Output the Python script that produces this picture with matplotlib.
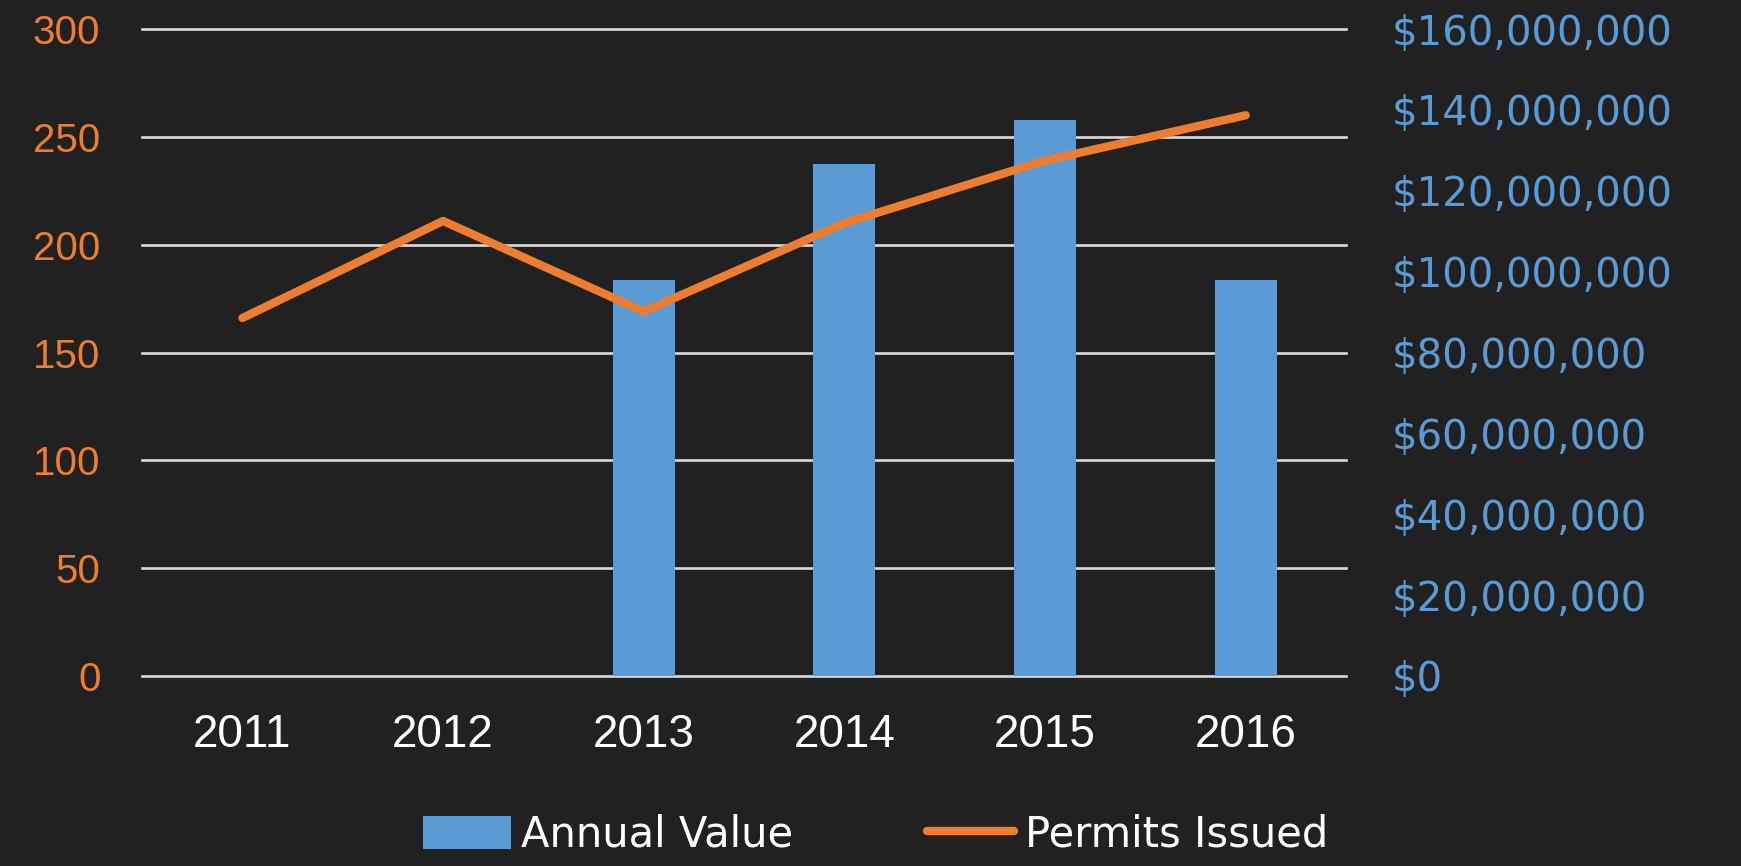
import numpy as np
import matplotlib
matplotlib.use('Agg')
import matplotlib.pyplot as plt
from matplotlib.ticker import FuncFormatter

# dados
anos = ['2011', '2012', '2013', '2014', '2015', '2016']
valor_anual = [0, 0, 98_000_000, 126_500_000, 137_500_000, 98_000_000]
licencas = [166, 211, 169, 210, 239, 260]

laranja = '#ED7D31'
azul = '#5B9BD5'
fundo = '#212121'
fonte_estreita = ['Liberation Sans Narrow', 'Liberation Sans', 'DejaVu Sans']

fig = plt.figure(figsize=(17.41, 8.66), dpi=100, facecolor=fundo)
ax = fig.add_axes([0.0816, 0.2194, 0.6915, 0.7471])
ax.set_facecolor('none')
x = np.arange(len(anos))

# eixo de base: grade e rótulos da esquerda (licenças)
ax.set_ylim(0, 300)
ax.set_xlim(-0.5, len(anos) - 0.5)
ax.set_yticks(range(0, 301, 50))
ax.grid(axis='y', color='#d9d9d9', linewidth=1.9)
for g in ax.get_ygridlines():
    g.set_clip_on(False)
ax.set_axisbelow(True)
ax.set_xticks(x)
ax.set_xticklabels(anos, color='white', fontsize=33, family=fonte_estreita)
for t in ax.get_yticklabels():
    t.set_color(laranja)
    t.set_fontsize(29)
    t.set_family(fonte_estreita)
ax.tick_params(length=0, pad=30)
ax.tick_params(axis='x', pad=27)
for s in ax.spines.values():
    s.set_visible(False)

# barras (valor anual) no eixo da direita
ax2 = ax.twinx()
ax2.set_ylim(0, 160_000_000)
ax2.set_yticks(range(0, 160_000_001, 20_000_000))
ax2.yaxis.set_major_formatter(FuncFormatter(lambda v, p: '${:,.0f}'.format(v)))
barras = ax2.bar(x, valor_anual, width=0.31, color=azul, label='Annual Value')
for t in ax2.get_yticklabels():
    t.set_color(azul)
    t.set_fontsize(29)
    t.set_family('DejaVu Sans')
ax2.tick_params(length=0, pad=33)
for s in ax2.spines.values():
    s.set_visible(False)

# linha (licenças emitidas) por cima
ax3 = ax.twinx()
ax3.set_ylim(0, 300)
ax3.set_yticks([])
linha, = ax3.plot(x, licencas, color=laranja, linewidth=6,
                  solid_capstyle='round', label='Permits Issued')
for s in ax3.spines.values():
    s.set_visible(False)

fig.legend(handles=[barras, linha], loc='center', bbox_to_anchor=(0.503, 0.036),
           ncol=2, frameon=False, handlelength=2.1, handleheight=0.85,
           columnspacing=3.2, handletextpad=0.25,
           prop={'family': 'DejaVu Sans', 'size': 30}, labelcolor='white')

fig.savefig('out.png', dpi=100, facecolor=fundo)
